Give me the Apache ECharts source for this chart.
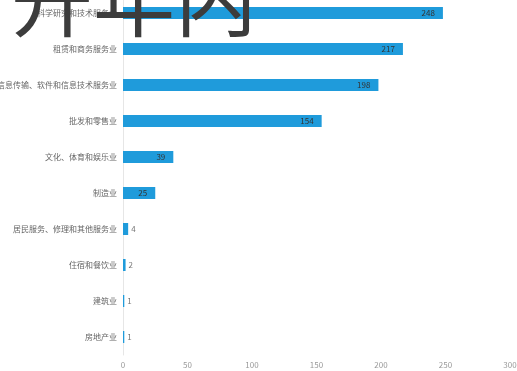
<!DOCTYPE html>
<html>
<head>
<meta charset="utf-8">
<script src="https://cdn.jsdelivr.net/npm/echarts@6/dist/echarts.min.js"></script>
<style>
  html, body { margin: 0; padding: 0; background: #fff; }
  #chart { width: 517px; height: 371px; }
</style>
</head>
<body>
<div id="chart"></div>
<script>
// Industries (top to bottom) and counts per industry
const categories = [
  '科学研究和技术服务业',
  '租赁和商务服务业',
  '信息传输、软件和信息技术服务业',
  '批发和零售业',
  '文化、体育和娱乐业',
  '制造业',
  '居民服务、修理和其他服务业',
  '住宿和餐饮业',
  '建筑业',
  '房地产业'
];
const counts = [248, 217, 198, 154, 39, 25, 4, 2, 1, 1];
const axisTicks = [0, 50, 100, 150, 200, 250, 300];
const titleText = '开年内';

const chart = echarts.init(document.getElementById('chart'), null, { renderer: 'canvas' });

const barData = counts.map(function (v) {
  return {
    value: v,
    label: v < 10
      ? { position: 'right', distance: 3, color: '#777' }
      : { position: 'insideRight', distance: 8, color: '#333' }
  };
});

chart.setOption({
  animation: false,
  title: {
    text: titleText,
    left: 6,
    top: -47,
    textStyle: { fontSize: 82, fontWeight: 'normal', color: '#3c3c3c', fontFamily: 'Noto Sans CJK SC' }
  },
  grid: { left: 123, right: 7, top: -5, bottom: 16, containLabel: false, outerBoundsMode: 'none' },
  xAxis: {
    type: 'value',
    min: axisTicks[0],
    max: axisTicks[axisTicks.length - 1],
    interval: axisTicks[1] - axisTicks[0],
    axisLine: { show: false },
    axisTick: { show: false },
    splitLine: { show: false },
    axisLabel: { color: '#999', fontSize: 8, margin: 6, fontFamily: 'Noto Sans CJK SC' }
  },
  yAxis: {
    type: 'category',
    data: categories,
    inverse: true,
    axisLine: { show: true, lineStyle: { color: '#e6e6e6', width: 1 } },
    axisTick: { show: false },
    axisLabel: { color: '#666', fontSize: 8, margin: 6, fontFamily: 'Noto Sans CJK SC' }
  },
  series: [{
    type: 'bar',
    data: barData,
    barWidth: 12,
    itemStyle: { color: '#1f9bdb' },
    label: { show: true, fontSize: 8, fontFamily: 'Noto Sans CJK SC' }
  }]
});
</script>
</body>
</html>
